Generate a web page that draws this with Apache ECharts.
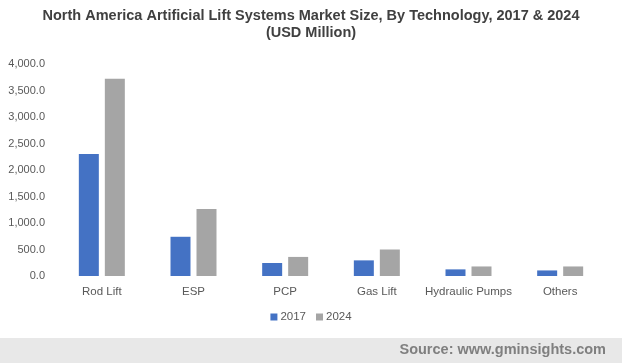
<!DOCTYPE html>
<html><head><meta charset="utf-8">
<script src="https://cdn.jsdelivr.net/npm/echarts@6/dist/echarts.min.js"></script>
<style>html,body{margin:0;padding:0;background:#fff}#c{width:622px;height:363px}</style>
</head><body><div id="c"></div>
<script>
var categories = ['Rod Lift', 'ESP', 'PCP', 'Gas Lift', 'Hydraulic Pumps', 'Others'];
var values2017 = [2300, 740, 245, 295, 125, 105];
var values2024 = [3720, 1265, 360, 500, 180, 180];
var seriesNames = ['2017', '2024'];

var chart = echarts.init(document.getElementById('c'));
chart.setOption({
  animation: false,
  backgroundColor: '#fff',
  title: {
    text: 'North America Artificial Lift Systems Market Size, By Technology, 2017 & 2024\n(USD Million)',
    left: 'center', top: 2,
    textStyle: { fontFamily: 'Liberation Sans, Arial', fontWeight: 'bold', fontSize: 14.5, color: '#404040', lineHeight: 17 }
  },
  legend: {
    data: seriesNames, bottom: 35, left: 'center',
    itemWidth: 7, itemHeight: 7, itemGap: 10,
    icon: 'rect',
    textStyle: { fontFamily: 'Liberation Sans, Arial', fontSize: 11.5, color: '#595959', padding: [0,0,0,-2] }
  },
  grid: { left: 56, right: 16, top: 64, bottom: 87 },
  xAxis: {
    type: 'category', data: categories,
    axisLine: { show: false }, axisTick: { show: false },
    axisLabel: { interval: 0, fontFamily: 'Liberation Sans, Arial', fontSize: 11.5, color: '#595959', margin: 10 }
  },
  yAxis: {
    type: 'value', min: 0, max: 4000, interval: 500,
    splitLine: { show: false }, axisLine: { show: false }, axisTick: { show: false },
    axisLabel: { fontFamily: 'Liberation Sans, Arial', fontSize: 11, color: '#595959', margin: 11,
      formatter: function (v) { return v.toLocaleString('en-US', { minimumFractionDigits: 1, maximumFractionDigits: 1 }); } }
  },
  series: [
    { name: seriesNames[0], type: 'bar', data: values2017, barWidth: 20, barGap: '30%', itemStyle: { color: '#4472c4' } },
    { name: seriesNames[1], type: 'bar', data: values2024, barWidth: 20, itemStyle: { color: '#a5a5a5' } }
  ],
  graphic: [
    { type: 'rect', left: 0, top: 338, shape: { width: 622, height: 25 }, style: { fill: '#e8e8e8' }, silent: true },
    { type: 'text', right: 16, top: 342, style: { text: 'Source: www.gminsights.com', font: 'bold 14.5px "Liberation Sans", Arial', fill: '#7f7f7f' } }
  ]
});
</script></body></html>
